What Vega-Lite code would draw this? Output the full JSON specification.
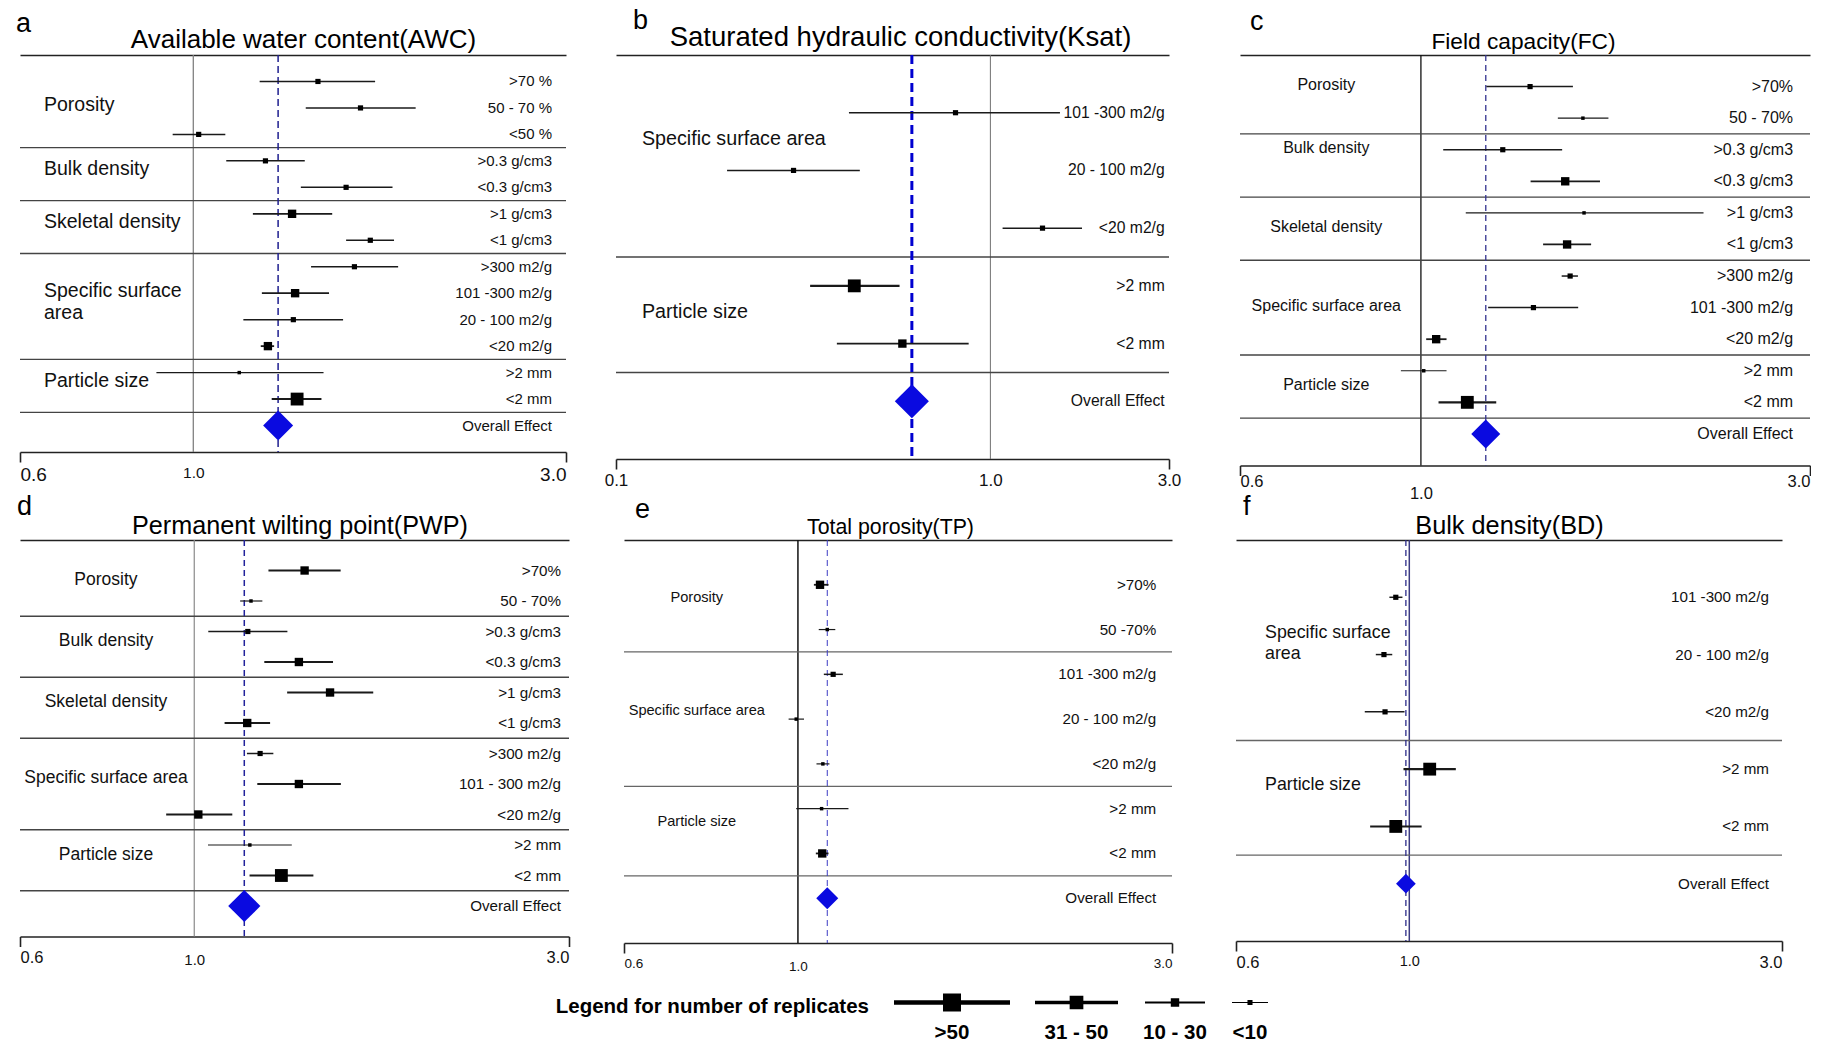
{
 "$schema": "https://vega.github.io/schema/vega-lite/v6.json",
 "background": "white",
 "padding": {"left": 16, "top": 6, "right": 0, "bottom": 0},
 "config": {"view": {"stroke": null}, "font": "Liberation Sans"},
 "datasets": {
  "a": [
   {"row": ">70 %", "lo": 1.216, "est": 1.444, "hi": 1.709, "n": "10-30"},
   {"row": "50 - 70 %", "lo": 1.393, "est": 1.637, "hi": 1.926, "n": "10-30"},
   {"row": "<50 %", "lo": 0.941, "est": 1.016, "hi": 1.099, "n": "10-30"},
   {"row": ">0.3 g/cm3", "lo": 1.102, "est": 1.237, "hi": 1.389, "n": "10-30"},
   {"row": "<0.3 g/cm3", "lo": 1.373, "est": 1.569, "hi": 1.799, "n": "10-30"},
   {"row": ">1 g/cm3", "lo": 1.192, "est": 1.338, "hi": 1.506, "n": "31-50"},
   {"row": "<1 g/cm3", "lo": 1.569, "est": 1.685, "hi": 1.807, "n": "10-30"},
   {"row": ">300 m2/g", "lo": 1.415, "est": 1.608, "hi": 1.829, "n": "10-30"},
   {"row": "101 -300 m2/g", "lo": 1.224, "est": 1.35, "hi": 1.492, "n": "31-50"},
   {"row": "20 - 100 m2/g", "lo": 1.159, "est": 1.343, "hi": 1.555, "n": "10-30"},
   {"row": "<20 m2/g", "lo": 1.22, "est": 1.246, "hi": 1.269, "n": "31-50"},
   {"row": ">2 mm", "lo": 0.897, "est": 1.145, "hi": 1.468, "n": "<10"},
   {"row": "<2 mm", "lo": 1.26, "est": 1.358, "hi": 1.459, "n": ">50"},
   {"row": "Overall Effect", "est": 1.284}
  ],
  "a_sep": [{"row": "<50 %"}, {"row": "<0.3 g/cm3"}, {"row": "<1 g/cm3"}, {"row": "<20 m2/g"}, {"row": "<2 mm"}],
  "a_gm": [{"g": "Porosity", "at": "50 - 70 %"}, {"g": "Specific surface\narea", "at": "101 -300 m2/g"}],
  "a_ge": [{"g": "Bulk density", "at": ">0.3 g/cm3"}, {"g": "Skeletal density", "at": ">1 g/cm3"}, {"g": "Particle size", "at": ">2 mm"}],
  "b": [
   {"row": "101 -300 m2/g", "lo": 0.419, "est": 0.807, "hi": 1.534, "n": "10-30"},
   {"row": "20 - 100 m2/g", "lo": 0.198, "est": 0.298, "hi": 0.448, "n": "10-30"},
   {"row": "<20 m2/g", "lo": 1.078, "est": 1.378, "hi": 1.757, "n": "10-30"},
   {"row": ">2 mm", "lo": 0.33, "est": 0.433, "hi": 0.572, "n": ">50"},
   {"row": "<2 mm", "lo": 0.389, "est": 0.582, "hi": 0.875, "n": "31-50"},
   {"row": "Overall Effect", "est": 0.617}
  ],
  "b_sep": [{"row": "<20 m2/g"}, {"row": "<2 mm"}],
  "b_ge": [{"g": "Specific surface area", "at": "101 -300 m2/g"}, {"g": "Particle size", "at": ">2 mm"}],
  "c": [
   {"row": ">70%", "lo": 1.203, "est": 1.361, "hi": 1.536, "n": "10-30"},
   {"row": "50 - 70%", "lo": 1.472, "est": 1.58, "hi": 1.698, "n": "<10"},
   {"row": ">0.3 g/cm3", "lo": 1.065, "est": 1.26, "hi": 1.49, "n": "10-30"},
   {"row": "<0.3 g/cm3", "lo": 1.363, "est": 1.503, "hi": 1.658, "n": "31-50"},
   {"row": ">1 g/cm3", "lo": 1.135, "est": 1.585, "hi": 2.221, "n": "<10"},
   {"row": "<1 g/cm3", "lo": 1.412, "est": 1.511, "hi": 1.617, "n": "31-50"},
   {"row": ">300 m2/g", "lo": 1.488, "est": 1.524, "hi": 1.558, "n": "10-30"},
   {"row": "101 -300 m2/g", "lo": 1.209, "est": 1.374, "hi": 1.559, "n": "10-30"},
   {"row": "<20 m2/g", "lo": 1.015, "est": 1.044, "hi": 1.075, "n": "31-50"},
   {"row": ">2 mm", "lo": 0.945, "est": 1.008, "hi": 1.075, "n": "<10"},
   {"row": "<2 mm", "lo": 1.051, "est": 1.14, "hi": 1.237, "n": ">50"},
   {"row": "Overall Effect", "est": 1.201}
  ],
  "c_sep": [{"row": "50 - 70%"}, {"row": "<0.3 g/cm3"}, {"row": "<1 g/cm3"}, {"row": "<20 m2/g"}, {"row": "<2 mm"}],
  "c_gm": [{"g": "Porosity", "at": ">70%"}, {"g": "Bulk density", "at": ">0.3 g/cm3"}, {"g": "Specific surface area", "at": "101 -300 m2/g"}],
  "c_ge": [{"g": "Skeletal density", "at": ">1 g/cm3"}, {"g": "Particle size", "at": ">2 mm"}],
  "d": [
   {"row": ">70%", "lo": 1.243, "est": 1.382, "hi": 1.536, "n": "31-50"},
   {"row": "50 - 70%", "lo": 1.144, "est": 1.181, "hi": 1.221, "n": "<10"},
   {"row": ">0.3 g/cm3", "lo": 1.042, "est": 1.17, "hi": 1.314, "n": "10-30"},
   {"row": "<0.3 g/cm3", "lo": 1.228, "est": 1.359, "hi": 1.502, "n": "31-50"},
   {"row": ">1 g/cm3", "lo": 1.313, "est": 1.489, "hi": 1.69, "n": "31-50"},
   {"row": "<1 g/cm3", "lo": 1.093, "est": 1.168, "hi": 1.249, "n": "31-50"},
   {"row": ">300 m2/g", "lo": 1.167, "est": 1.213, "hi": 1.261, "n": "10-30"},
   {"row": "101 - 300 m2/g", "lo": 1.203, "est": 1.359, "hi": 1.537, "n": "31-50"},
   {"row": "<20 m2/g", "lo": 0.921, "est": 1.012, "hi": 1.118, "n": "31-50"},
   {"row": ">2 mm", "lo": 1.041, "est": 1.177, "hi": 1.331, "n": "<10"},
   {"row": "<2 mm", "lo": 1.176, "est": 1.291, "hi": 1.418, "n": ">50"},
   {"row": "Overall Effect", "est": 1.158}
  ],
  "d_sep": [{"row": "50 - 70%"}, {"row": "<0.3 g/cm3"}, {"row": "<1 g/cm3"}, {"row": "<20 m2/g"}, {"row": "<2 mm"}],
  "d_gm": [{"g": "Specific surface area", "at": "101 - 300 m2/g"}],
  "d_ge": [{"g": "Porosity", "at": ">70%"}, {"g": "Bulk density", "at": ">0.3 g/cm3"}, {"g": "Skeletal density", "at": ">1 g/cm3"}, {"g": "Particle size", "at": ">2 mm"}],
  "e": [
   {"row": ">70%", "lo": 1.048, "est": 1.067, "hi": 1.094, "n": "31-50"},
   {"row": "50 -70%", "lo": 1.063, "est": 1.09, "hi": 1.116, "n": "<10"},
   {"row": "101 -300 m2/g", "lo": 1.079, "est": 1.109, "hi": 1.141, "n": "10-30"},
   {"row": "20 - 100 m2/g", "lo": 0.973, "est": 0.995, "hi": 1.018, "n": "<10"},
   {"row": "<20 m2/g", "lo": 1.056, "est": 1.076, "hi": 1.097, "n": "<10"},
   {"row": ">2 mm", "lo": 0.995, "est": 1.072, "hi": 1.16, "n": "<10"},
   {"row": "<2 mm", "lo": 1.054, "est": 1.074, "hi": 1.094, "n": "31-50"},
   {"row": "Overall Effect", "est": 1.09}
  ],
  "e_sep": [{"row": "50 -70%"}, {"row": "<20 m2/g"}, {"row": "<2 mm"}],
  "e_gm": [{"g": "Specific surface area", "at": "20 - 100 m2/g"}],
  "e_ge": [{"g": "Porosity", "at": ">70%"}, {"g": "Particle size", "at": ">2 mm"}],
  "f": [
   {"row": "101 -300 m2/g", "lo": 0.943, "est": 0.961, "hi": 0.98, "n": "10-30"},
   {"row": "20 - 100 m2/g", "lo": 0.906, "est": 0.928, "hi": 0.951, "n": "10-30"},
   {"row": "<20 m2/g", "lo": 0.877, "est": 0.931, "hi": 0.986, "n": "10-30"},
   {"row": ">2 mm", "lo": 0.983, "est": 1.062, "hi": 1.147, "n": ">50"},
   {"row": "<2 mm", "lo": 0.891, "est": 0.961, "hi": 1.037, "n": ">50"},
   {"row": "Overall Effect", "est": 0.99}
  ],
  "f_sep": [{"row": "<20 m2/g"}, {"row": "<2 mm"}],
  "f_gm": [{"g": "Specific surface\narea", "at": "20 - 100 m2/g"}],
  "f_ge": [{"g": "Particle size", "at": ">2 mm"}]
 },
 "vconcat": [
  {
   "spacing": -9,
   "vconcat": [
    {
     "spacing": 37,
     "hconcat": [
      {
       "width": 546, "height": 397,
       "title": {"text": "a", "anchor": "start", "frame": "group", "fontSize": 27, "fontWeight": "normal", "color": "#000", "dx": -4, "offset": -11.5},
       "resolve": {"axis": {"x": "independent"}},
       "layer": [
        {"data": {"values": [{}]}, "mark": {"type": "rule", "color": "#808080", "strokeWidth": 1.3}, "encoding": {"x": {"datum": 1, "type": "quantitative", "scale": {"type": "log", "domain": [0.6, 3], "nice": false}, "axis": null}}},
        {"data": {"name": "a_sep"}, "mark": {"type": "rule", "color": "#444", "strokeWidth": 1.3}, "encoding": {"y": {"field": "row", "type": "nominal", "bandPosition": 1, "scale": {"type": "band", "domain": [">70 %", "50 - 70 %", "<50 %", ">0.3 g/cm3", "<0.3 g/cm3", ">1 g/cm3", "<1 g/cm3", ">300 m2/g", "101 -300 m2/g", "20 - 100 m2/g", "<20 m2/g", ">2 mm", "<2 mm", "Overall Effect"], "paddingInner": 0, "paddingOuter": 0.5}, "axis": null}}},
        {"data": {"name": "a"}, "transform": [{"filter": "datum.row === 'Overall Effect'"}], "mark": {"type": "rule", "color": "#1f1f8f", "strokeWidth": 1.5, "strokeDash": [7, 4]}, "encoding": {"x": {"field": "est", "type": "quantitative", "scale": {"type": "log", "domain": [0.6, 3], "nice": false}, "axis": null}}},
        {"data": {"name": "a"}, "transform": [{"filter": "datum.row !== 'Overall Effect'"}], "mark": {"type": "rule", "color": "#1a1a1a"},
         "encoding": {
          "x": {"field": "lo", "type": "quantitative", "scale": {"type": "log", "domain": [0.6, 3], "nice": false},
                "axis": {"orient": "bottom", "values": [0.6, 1, 3], "format": ".1f", "title": null, "grid": false, "domainColor": "#222", "domainWidth": 1.6, "tickColor": "#222", "tickWidth": 1.6, "tickSize": 10, "tickOpacity": {"condition": {"test": "datum.value === 1", "value": 0}, "value": 1}, "labelFont": "Liberation Sans", "labelFontSize": {"condition": {"test": "datum.value === 1", "value": 15.5}, "value": 19}, "labelColor": "#111", "labelPadding": 3}},
          "x2": {"field": "hi"},
          "y": {"field": "row", "type": "nominal", "scale": {"type": "band", "domain": [">70 %", "50 - 70 %", "<50 %", ">0.3 g/cm3", "<0.3 g/cm3", ">1 g/cm3", "<1 g/cm3", ">300 m2/g", "101 -300 m2/g", "20 - 100 m2/g", "<20 m2/g", ">2 mm", "<2 mm", "Overall Effect"], "paddingInner": 0, "paddingOuter": 0.5}, "axis": null},
          "strokeWidth": {"field": "n", "type": "ordinal", "scale": {"type": "ordinal", "domain": ["<10", "10-30", "31-50", ">50"], "range": [1.2, 1.5, 1.8, 2.1]}, "legend": null}
         }},
        {"data": {"name": "a"}, "transform": [{"filter": "datum.row !== 'Overall Effect'"}], "mark": {"type": "point", "shape": "square", "filled": true, "color": "#000", "opacity": 1},
         "encoding": {
          "x": {"field": "est", "type": "quantitative", "scale": {"type": "log", "domain": [0.6, 3], "nice": false}, "axis": null},
          "y": {"field": "row", "type": "nominal", "scale": {"type": "band", "domain": [">70 %", "50 - 70 %", "<50 %", ">0.3 g/cm3", "<0.3 g/cm3", ">1 g/cm3", "<1 g/cm3", ">300 m2/g", "101 -300 m2/g", "20 - 100 m2/g", "<20 m2/g", ">2 mm", "<2 mm", "Overall Effect"], "paddingInner": 0, "paddingOuter": 0.5}, "axis": null},
          "size": {"field": "n", "type": "ordinal", "scale": {"type": "ordinal", "domain": ["<10", "10-30", "31-50", ">50"], "range": [12, 27, 70, 165]}, "legend": null}
         }},
        {"data": {"name": "a"}, "transform": [{"filter": "datum.row === 'Overall Effect'"}], "mark": {"type": "point", "shape": "diamond", "filled": true, "color": "#0a0ae0", "opacity": 1, "size": 900},
         "encoding": {
          "x": {"field": "est", "type": "quantitative", "scale": {"type": "log", "domain": [0.6, 3], "nice": false},
                "axis": {"orient": "top", "labels": false, "ticks": false, "grid": false, "domainColor": "#222", "domainWidth": 1.6, "title": "Available water content(AWC)", "titleFont": "Liberation Sans", "titleFontSize": 26, "titleFontWeight": "normal", "titleColor": "#000", "titlePadding": 3, "titleX": 283}},
          "y": {"field": "row", "type": "nominal", "scale": {"type": "band", "domain": [">70 %", "50 - 70 %", "<50 %", ">0.3 g/cm3", "<0.3 g/cm3", ">1 g/cm3", "<1 g/cm3", ">300 m2/g", "101 -300 m2/g", "20 - 100 m2/g", "<20 m2/g", ">2 mm", "<2 mm", "Overall Effect"], "paddingInner": 0, "paddingOuter": 0.5}, "axis": null}
         }},
        {"data": {"name": "a"}, "mark": {"type": "text", "align": "right", "baseline": "middle", "font": "Liberation Sans", "fontSize": 15, "color": "#111"},
         "encoding": {"x": {"datum": 2.879, "type": "quantitative", "scale": {"type": "log", "domain": [0.6, 3], "nice": false}, "axis": null},
          "y": {"field": "row", "type": "nominal", "scale": {"type": "band", "domain": [">70 %", "50 - 70 %", "<50 %", ">0.3 g/cm3", "<0.3 g/cm3", ">1 g/cm3", "<1 g/cm3", ">300 m2/g", "101 -300 m2/g", "20 - 100 m2/g", "<20 m2/g", ">2 mm", "<2 mm", "Overall Effect"], "paddingInner": 0, "paddingOuter": 0.5}, "axis": null},
          "text": {"field": "row"}}},
        {"data": {"name": "a_gm"}, "mark": {"type": "text", "align": "left", "baseline": "middle", "font": "Liberation Sans", "fontSize": 19.5, "color": "#111", "lineBreak": "\n", "lineHeight": 22},
         "encoding": {"x": {"datum": 0.644, "type": "quantitative", "scale": {"type": "log", "domain": [0.6, 3], "nice": false}, "axis": null},
          "y": {"field": "at", "type": "nominal", "bandPosition": 0.4, "scale": {"type": "band", "domain": [">70 %", "50 - 70 %", "<50 %", ">0.3 g/cm3", "<0.3 g/cm3", ">1 g/cm3", "<1 g/cm3", ">300 m2/g", "101 -300 m2/g", "20 - 100 m2/g", "<20 m2/g", ">2 mm", "<2 mm", "Overall Effect"], "paddingInner": 0, "paddingOuter": 0.5}, "axis": null},
          "text": {"field": "g"}}},
        {"data": {"name": "a_ge"}, "mark": {"type": "text", "align": "left", "baseline": "middle", "font": "Liberation Sans", "fontSize": 19.5, "color": "#111"},
         "encoding": {"x": {"datum": 0.644, "type": "quantitative", "scale": {"type": "log", "domain": [0.6, 3], "nice": false}, "axis": null},
          "y": {"field": "at", "type": "nominal", "bandPosition": 0.8, "scale": {"type": "band", "domain": [">70 %", "50 - 70 %", "<50 %", ">0.3 g/cm3", "<0.3 g/cm3", ">1 g/cm3", "<1 g/cm3", ">300 m2/g", "101 -300 m2/g", "20 - 100 m2/g", "<20 m2/g", ">2 mm", "<2 mm", "Overall Effect"], "paddingInner": 0, "paddingOuter": 0.5}, "axis": null},
          "text": {"field": "g"}}}
       ]
      },
      {
       "spacing": 58,
       "hconcat": [
        {
         "width": 553, "height": 404,
         "title": {"text": "b", "anchor": "start", "frame": "group", "fontSize": 27, "fontWeight": "normal", "color": "#000", "dx": 17, "offset": -11.5},
         "resolve": {"axis": {"x": "independent"}},
         "layer": [
          {"data": {"values": [{}]}, "mark": {"type": "rule", "color": "#707070", "strokeWidth": 1}, "encoding": {"x": {"datum": 1, "type": "quantitative", "scale": {"type": "log", "domain": [0.1, 3], "nice": false}, "axis": null}}},
          {"data": {"name": "b_sep"}, "mark": {"type": "rule", "color": "#444", "strokeWidth": 1.4}, "encoding": {"y": {"field": "row", "type": "nominal", "bandPosition": 1, "scale": {"type": "band", "domain": ["101 -300 m2/g", "20 - 100 m2/g", "<20 m2/g", ">2 mm", "<2 mm", "Overall Effect"], "paddingInner": 0, "paddingOuter": 0.5}, "axis": null}}},
          {"data": {"name": "b"}, "transform": [{"filter": "datum.row === 'Overall Effect'"}], "mark": {"type": "rule", "color": "#0000d0", "strokeWidth": 3, "strokeDash": [9, 5]}, "encoding": {"x": {"field": "est", "type": "quantitative", "scale": {"type": "log", "domain": [0.1, 3], "nice": false}, "axis": null}}},
          {"data": {"name": "b"}, "transform": [{"filter": "datum.row !== 'Overall Effect'"}], "mark": {"type": "rule", "color": "#1a1a1a"},
           "encoding": {
            "x": {"field": "lo", "type": "quantitative", "scale": {"type": "log", "domain": [0.1, 3], "nice": false},
                  "axis": {"orient": "bottom", "values": [0.1, 1, 3], "format": ".1f", "title": null, "grid": false, "labelFlush": false, "domainColor": "#222", "domainWidth": 1.6, "tickColor": "#222", "tickWidth": 1.6, "tickSize": 10, "tickOpacity": {"condition": {"test": "datum.value === 1", "value": 0}, "value": 1}, "labelFont": "Liberation Sans", "labelFontSize": 17, "labelColor": "#111", "labelPadding": 3}},
            "x2": {"field": "hi"},
            "y": {"field": "row", "type": "nominal", "scale": {"type": "band", "domain": ["101 -300 m2/g", "20 - 100 m2/g", "<20 m2/g", ">2 mm", "<2 mm", "Overall Effect"], "paddingInner": 0, "paddingOuter": 0.5}, "axis": null},
            "strokeWidth": {"field": "n", "type": "ordinal", "scale": {"type": "ordinal", "domain": ["<10", "10-30", "31-50", ">50"], "range": [1.0, 1.2, 1.5, 1.8]}, "legend": null}
           }},
          {"data": {"name": "b"}, "transform": [{"filter": "datum.row !== 'Overall Effect'"}], "mark": {"type": "point", "shape": "square", "filled": true, "color": "#000", "opacity": 1},
           "encoding": {
            "x": {"field": "est", "type": "quantitative", "scale": {"type": "log", "domain": [0.1, 3], "nice": false}, "axis": null},
            "y": {"field": "row", "type": "nominal", "scale": {"type": "band", "domain": ["101 -300 m2/g", "20 - 100 m2/g", "<20 m2/g", ">2 mm", "<2 mm", "Overall Effect"], "paddingInner": 0, "paddingOuter": 0.5}, "axis": null},
            "size": {"field": "n", "type": "ordinal", "scale": {"type": "ordinal", "domain": ["<10", "10-30", "31-50", ">50"], "range": [12, 27, 85, 190]}, "legend": null}
           }},
          {"data": {"name": "b"}, "transform": [{"filter": "datum.row === 'Overall Effect'"}], "mark": {"type": "point", "shape": "diamond", "filled": true, "color": "#0a0ae0", "opacity": 1, "size": 1160},
           "encoding": {
            "x": {"field": "est", "type": "quantitative", "scale": {"type": "log", "domain": [0.1, 3], "nice": false},
                  "axis": {"orient": "top", "labels": false, "ticks": false, "grid": false, "domainColor": "#222", "domainWidth": 1.6, "title": "Saturated hydraulic conductivity(Ksat)", "titleFont": "Liberation Sans", "titleFontSize": 27.5, "titleFontWeight": "normal", "titleColor": "#000", "titlePadding": 4, "titleX": 284}},
            "y": {"field": "row", "type": "nominal", "scale": {"type": "band", "domain": ["101 -300 m2/g", "20 - 100 m2/g", "<20 m2/g", ">2 mm", "<2 mm", "Overall Effect"], "paddingInner": 0, "paddingOuter": 0.5}, "axis": null}
           }},
          {"data": {"name": "b"}, "mark": {"type": "text", "align": "right", "baseline": "middle", "font": "Liberation Sans", "fontSize": 15.7, "color": "#111"},
           "encoding": {"x": {"datum": 2.922, "type": "quantitative", "scale": {"type": "log", "domain": [0.1, 3], "nice": false}, "axis": null},
            "y": {"field": "row", "type": "nominal", "scale": {"type": "band", "domain": ["101 -300 m2/g", "20 - 100 m2/g", "<20 m2/g", ">2 mm", "<2 mm", "Overall Effect"], "paddingInner": 0, "paddingOuter": 0.5}, "axis": null},
            "text": {"field": "row"}}},
          {"data": {"name": "b_ge"}, "mark": {"type": "text", "align": "left", "baseline": "middle", "font": "Liberation Sans", "fontSize": 19.7, "color": "#111"},
           "encoding": {"x": {"datum": 0.1173, "type": "quantitative", "scale": {"type": "log", "domain": [0.1, 3], "nice": false}, "axis": null},
            "y": {"field": "at", "type": "nominal", "bandPosition": 0.95, "scale": {"type": "band", "domain": ["101 -300 m2/g", "20 - 100 m2/g", "<20 m2/g", ">2 mm", "<2 mm", "Overall Effect"], "paddingInner": 0, "paddingOuter": 0.5}, "axis": null},
            "text": {"field": "g"}}}
         ]
        },
        {
         "width": 570, "height": 410.5,
         "title": {"text": "c", "anchor": "start", "frame": "group", "fontSize": 27, "fontWeight": "normal", "color": "#000", "dx": 10, "offset": -5.5},
         "resolve": {"axis": {"x": "independent"}},
         "layer": [
          {"data": {"values": [{}]}, "mark": {"type": "rule", "color": "#111", "strokeWidth": 1.3}, "encoding": {"x": {"datum": 1, "type": "quantitative", "scale": {"type": "log", "domain": [0.6, 3], "nice": false}, "axis": null}}},
          {"data": {"name": "c_sep"}, "mark": {"type": "rule", "color": "#444", "strokeWidth": 1.3}, "encoding": {"y": {"field": "row", "type": "nominal", "bandPosition": 1, "scale": {"type": "band", "domain": [">70%", "50 - 70%", ">0.3 g/cm3", "<0.3 g/cm3", ">1 g/cm3", "<1 g/cm3", ">300 m2/g", "101 -300 m2/g", "<20 m2/g", ">2 mm", "<2 mm", "Overall Effect"], "paddingInner": 0, "paddingOuter": 0.5}, "axis": null}}},
          {"data": {"name": "c"}, "transform": [{"filter": "datum.row === 'Overall Effect'"}], "mark": {"type": "rule", "color": "#33338f", "strokeWidth": 1.3, "strokeDash": [6, 4]}, "encoding": {"x": {"field": "est", "type": "quantitative", "scale": {"type": "log", "domain": [0.6, 3], "nice": false}, "axis": null}}},
          {"data": {"name": "c"}, "transform": [{"filter": "datum.row !== 'Overall Effect'"}], "mark": {"type": "rule", "color": "#1a1a1a"},
           "encoding": {
            "x": {"field": "lo", "type": "quantitative", "scale": {"type": "log", "domain": [0.6, 3], "nice": false},
                  "axis": {"orient": "bottom", "values": [0.6, 1, 3], "format": ".1f", "title": null, "grid": false, "domainColor": "#222", "domainWidth": 1.6, "tickColor": "#222", "tickWidth": 1.6, "tickSize": 10, "tickOpacity": {"condition": {"test": "datum.value === 1", "value": 0}, "value": 1}, "labelFont": "Liberation Sans", "labelFontSize": 16.5, "labelColor": "#111", "labelPadding": {"condition": {"test": "datum.value === 1", "value": 10}, "value": -2}}},
            "x2": {"field": "hi"},
            "y": {"field": "row", "type": "nominal", "scale": {"type": "band", "domain": [">70%", "50 - 70%", ">0.3 g/cm3", "<0.3 g/cm3", ">1 g/cm3", "<1 g/cm3", ">300 m2/g", "101 -300 m2/g", "<20 m2/g", ">2 mm", "<2 mm", "Overall Effect"], "paddingInner": 0, "paddingOuter": 0.5}, "axis": null},
            "strokeWidth": {"field": "n", "type": "ordinal", "scale": {"type": "ordinal", "domain": ["<10", "10-30", "31-50", ">50"], "range": [1.2, 1.5, 1.8, 2.1]}, "legend": null}
           }},
          {"data": {"name": "c"}, "transform": [{"filter": "datum.row !== 'Overall Effect'"}], "mark": {"type": "point", "shape": "square", "filled": true, "color": "#000", "opacity": 1},
           "encoding": {
            "x": {"field": "est", "type": "quantitative", "scale": {"type": "log", "domain": [0.6, 3], "nice": false}, "axis": null},
            "y": {"field": "row", "type": "nominal", "scale": {"type": "band", "domain": [">70%", "50 - 70%", ">0.3 g/cm3", "<0.3 g/cm3", ">1 g/cm3", "<1 g/cm3", ">300 m2/g", "101 -300 m2/g", "<20 m2/g", ">2 mm", "<2 mm", "Overall Effect"], "paddingInner": 0, "paddingOuter": 0.5}, "axis": null},
            "size": {"field": "n", "type": "ordinal", "scale": {"type": "ordinal", "domain": ["<10", "10-30", "31-50", ">50"], "range": [12, 27, 55, 135]}, "legend": null}
           }},
          {"data": {"name": "c"}, "transform": [{"filter": "datum.row === 'Overall Effect'"}], "mark": {"type": "point", "shape": "diamond", "filled": true, "color": "#0a0ae0", "opacity": 1, "size": 841},
           "encoding": {
            "x": {"field": "est", "type": "quantitative", "scale": {"type": "log", "domain": [0.6, 3], "nice": false},
                  "axis": {"orient": "top", "labels": false, "ticks": false, "grid": false, "domainColor": "#222", "domainWidth": 1.6, "title": "Field capacity(FC)", "titleFont": "Liberation Sans", "titleFontSize": 22.7, "titleFontWeight": "normal", "titleColor": "#000", "titlePadding": 2, "titleX": 283}},
            "y": {"field": "row", "type": "nominal", "scale": {"type": "band", "domain": [">70%", "50 - 70%", ">0.3 g/cm3", "<0.3 g/cm3", ">1 g/cm3", "<1 g/cm3", ">300 m2/g", "101 -300 m2/g", "<20 m2/g", ">2 mm", "<2 mm", "Overall Effect"], "paddingInner": 0, "paddingOuter": 0.5}, "axis": null}
           }},
          {"data": {"name": "c"}, "mark": {"type": "text", "align": "right", "baseline": "middle", "font": "Liberation Sans", "fontSize": 16, "color": "#111"},
           "encoding": {"x": {"datum": 2.86, "type": "quantitative", "scale": {"type": "log", "domain": [0.6, 3], "nice": false}, "axis": null},
            "y": {"field": "row", "type": "nominal", "scale": {"type": "band", "domain": [">70%", "50 - 70%", ">0.3 g/cm3", "<0.3 g/cm3", ">1 g/cm3", "<1 g/cm3", ">300 m2/g", "101 -300 m2/g", "<20 m2/g", ">2 mm", "<2 mm", "Overall Effect"], "paddingInner": 0, "paddingOuter": 0.5}, "axis": null},
            "text": {"field": "row"}}},
          {"data": {"name": "c_gm"}, "mark": {"type": "text", "align": "center", "baseline": "middle", "font": "Liberation Sans", "fontSize": 16, "color": "#111"},
           "encoding": {"x": {"datum": 0.7655, "type": "quantitative", "scale": {"type": "log", "domain": [0.6, 3], "nice": false}, "axis": null},
            "y": {"field": "at", "type": "nominal", "bandPosition": 0.45, "scale": {"type": "band", "domain": [">70%", "50 - 70%", ">0.3 g/cm3", "<0.3 g/cm3", ">1 g/cm3", "<1 g/cm3", ">300 m2/g", "101 -300 m2/g", "<20 m2/g", ">2 mm", "<2 mm", "Overall Effect"], "paddingInner": 0, "paddingOuter": 0.5}, "axis": null},
            "text": {"field": "g"}}},
          {"data": {"name": "c_ge"}, "mark": {"type": "text", "align": "center", "baseline": "middle", "font": "Liberation Sans", "fontSize": 16, "color": "#111"},
           "encoding": {"x": {"datum": 0.7655, "type": "quantitative", "scale": {"type": "log", "domain": [0.6, 3], "nice": false}, "axis": null},
            "y": {"field": "at", "type": "nominal", "bandPosition": 0.95, "scale": {"type": "band", "domain": [">70%", "50 - 70%", ">0.3 g/cm3", "<0.3 g/cm3", ">1 g/cm3", "<1 g/cm3", ">300 m2/g", "101 -300 m2/g", "<20 m2/g", ">2 mm", "<2 mm", "Overall Effect"], "paddingInner": 0, "paddingOuter": 0.5}, "axis": null},
            "text": {"field": "g"}}}
         ]
        }
       ]
      }
     ]
    },
    {
     "spacing": 53,
     "hconcat": [
      {
       "width": 549, "height": 396.5,
       "title": {"text": "d", "anchor": "start", "frame": "group", "fontSize": 27, "fontWeight": "normal", "color": "#000", "dx": -3, "offset": -8},
       "resolve": {"axis": {"x": "independent"}},
       "layer": [
        {"data": {"values": [{}]}, "mark": {"type": "rule", "color": "#8a8a8a", "strokeWidth": 1.2}, "encoding": {"x": {"datum": 1, "type": "quantitative", "scale": {"type": "log", "domain": [0.6, 3], "nice": false}, "axis": null}}},
        {"data": {"name": "d_sep"}, "mark": {"type": "rule", "color": "#444", "strokeWidth": 1.3}, "encoding": {"y": {"field": "row", "type": "nominal", "bandPosition": 1, "scale": {"type": "band", "domain": [">70%", "50 - 70%", ">0.3 g/cm3", "<0.3 g/cm3", ">1 g/cm3", "<1 g/cm3", ">300 m2/g", "101 - 300 m2/g", "<20 m2/g", ">2 mm", "<2 mm", "Overall Effect"], "paddingInner": 0, "paddingOuter": 0.5}, "axis": null}}},
        {"data": {"name": "d"}, "transform": [{"filter": "datum.row === 'Overall Effect'"}], "mark": {"type": "rule", "color": "#22229a", "strokeWidth": 1.5, "strokeDash": [6, 4]}, "encoding": {"x": {"field": "est", "type": "quantitative", "scale": {"type": "log", "domain": [0.6, 3], "nice": false}, "axis": null}}},
        {"data": {"name": "d"}, "transform": [{"filter": "datum.row !== 'Overall Effect'"}], "mark": {"type": "rule", "color": "#1a1a1a"},
         "encoding": {
          "x": {"field": "lo", "type": "quantitative", "scale": {"type": "log", "domain": [0.6, 3], "nice": false},
                "axis": {"orient": "bottom", "values": [0.6, 1, 3], "format": ".1f", "title": null, "grid": false, "domainColor": "#222", "domainWidth": 1.6, "tickColor": "#222", "tickWidth": 1.6, "tickSize": 10, "tickOpacity": {"condition": {"test": "datum.value === 1", "value": 0}, "value": 1}, "labelFont": "Liberation Sans", "labelFontSize": {"condition": {"test": "datum.value === 1", "value": 15}, "value": 16.5}, "labelColor": "#111", "labelPadding": {"condition": {"test": "datum.value === 1", "value": 6}, "value": 3}}},
          "x2": {"field": "hi"},
          "y": {"field": "row", "type": "nominal", "scale": {"type": "band", "domain": [">70%", "50 - 70%", ">0.3 g/cm3", "<0.3 g/cm3", ">1 g/cm3", "<1 g/cm3", ">300 m2/g", "101 - 300 m2/g", "<20 m2/g", ">2 mm", "<2 mm", "Overall Effect"], "paddingInner": 0, "paddingOuter": 0.5}, "axis": null},
          "strokeWidth": {"field": "n", "type": "ordinal", "scale": {"type": "ordinal", "domain": ["<10", "10-30", "31-50", ">50"], "range": [1.2, 1.5, 1.8, 2.1]}, "legend": null}
         }},
        {"data": {"name": "d"}, "transform": [{"filter": "datum.row !== 'Overall Effect'"}], "mark": {"type": "point", "shape": "square", "filled": true, "color": "#000", "opacity": 1},
         "encoding": {
          "x": {"field": "est", "type": "quantitative", "scale": {"type": "log", "domain": [0.6, 3], "nice": false}, "axis": null},
          "y": {"field": "row", "type": "nominal", "scale": {"type": "band", "domain": [">70%", "50 - 70%", ">0.3 g/cm3", "<0.3 g/cm3", ">1 g/cm3", "<1 g/cm3", ">300 m2/g", "101 - 300 m2/g", "<20 m2/g", ">2 mm", "<2 mm", "Overall Effect"], "paddingInner": 0, "paddingOuter": 0.5}, "axis": null},
          "size": {"field": "n", "type": "ordinal", "scale": {"type": "ordinal", "domain": ["<10", "10-30", "31-50", ">50"], "range": [15, 28, 85, 145]}, "legend": null}
         }},
        {"data": {"name": "d"}, "transform": [{"filter": "datum.row === 'Overall Effect'"}], "mark": {"type": "point", "shape": "diamond", "filled": true, "color": "#0a0ae0", "opacity": 1, "size": 1036},
         "encoding": {
          "x": {"field": "est", "type": "quantitative", "scale": {"type": "log", "domain": [0.6, 3], "nice": false},
                "axis": {"orient": "top", "labels": false, "ticks": false, "grid": false, "domainColor": "#222", "domainWidth": 1.6, "title": "Permanent wilting point(PWP)", "titleFont": "Liberation Sans", "titleFontSize": 25.2, "titleFontWeight": "normal", "titleColor": "#000", "titlePadding": 2, "titleX": 279.5}},
          "y": {"field": "row", "type": "nominal", "scale": {"type": "band", "domain": [">70%", "50 - 70%", ">0.3 g/cm3", "<0.3 g/cm3", ">1 g/cm3", "<1 g/cm3", ">300 m2/g", "101 - 300 m2/g", "<20 m2/g", ">2 mm", "<2 mm", "Overall Effect"], "paddingInner": 0, "paddingOuter": 0.5}, "axis": null}
         }},
        {"data": {"name": "d"}, "mark": {"type": "text", "align": "right", "baseline": "middle", "font": "Liberation Sans", "fontSize": 15.2, "color": "#111"},
         "encoding": {"x": {"datum": 2.931, "type": "quantitative", "scale": {"type": "log", "domain": [0.6, 3], "nice": false}, "axis": null},
          "y": {"field": "row", "type": "nominal", "scale": {"type": "band", "domain": [">70%", "50 - 70%", ">0.3 g/cm3", "<0.3 g/cm3", ">1 g/cm3", "<1 g/cm3", ">300 m2/g", "101 - 300 m2/g", "<20 m2/g", ">2 mm", "<2 mm", "Overall Effect"], "paddingInner": 0, "paddingOuter": 0.5}, "axis": null},
          "text": {"field": "row"}}},
        {"data": {"name": "d_gm"}, "mark": {"type": "text", "align": "center", "baseline": "middle", "font": "Liberation Sans", "fontSize": 17.5, "color": "#111"},
         "encoding": {"x": {"datum": 0.772, "type": "quantitative", "scale": {"type": "log", "domain": [0.6, 3], "nice": false}, "axis": null},
          "y": {"field": "at", "type": "nominal", "bandPosition": 0.3, "scale": {"type": "band", "domain": [">70%", "50 - 70%", ">0.3 g/cm3", "<0.3 g/cm3", ">1 g/cm3", "<1 g/cm3", ">300 m2/g", "101 - 300 m2/g", "<20 m2/g", ">2 mm", "<2 mm", "Overall Effect"], "paddingInner": 0, "paddingOuter": 0.5}, "axis": null},
          "text": {"field": "g"}}},
        {"data": {"name": "d_ge"}, "mark": {"type": "text", "align": "center", "baseline": "middle", "font": "Liberation Sans", "fontSize": 17.5, "color": "#111"},
         "encoding": {"x": {"datum": 0.772, "type": "quantitative", "scale": {"type": "log", "domain": [0.6, 3], "nice": false}, "axis": null},
          "y": {"field": "at", "type": "nominal", "bandPosition": 0.82, "scale": {"type": "band", "domain": [">70%", "50 - 70%", ">0.3 g/cm3", "<0.3 g/cm3", ">1 g/cm3", "<1 g/cm3", ">300 m2/g", "101 - 300 m2/g", "<20 m2/g", ">2 mm", "<2 mm", "Overall Effect"], "paddingInner": 0, "paddingOuter": 0.5}, "axis": null},
          "text": {"field": "g"}}}
       ]
      },
      {
       "spacing": 62,
       "hconcat": [
        {
         "width": 548, "height": 403,
         "title": {"text": "e", "anchor": "start", "frame": "group", "fontSize": 27, "fontWeight": "normal", "color": "#000", "dx": 11, "offset": -8},
         "resolve": {"axis": {"x": "independent"}},
         "layer": [
          {"data": {"values": [{}]}, "mark": {"type": "rule", "color": "#111", "strokeWidth": 1.5}, "encoding": {"x": {"datum": 1, "type": "quantitative", "scale": {"type": "log", "domain": [0.6, 3], "nice": false}, "axis": null}}},
          {"data": {"name": "e_sep"}, "mark": {"type": "rule", "color": "#666", "strokeWidth": 1.3}, "encoding": {"y": {"field": "row", "type": "nominal", "bandPosition": 1, "scale": {"type": "band", "domain": [">70%", "50 -70%", "101 -300 m2/g", "20 - 100 m2/g", "<20 m2/g", ">2 mm", "<2 mm", "Overall Effect"], "paddingInner": 0, "paddingOuter": 0.5}, "axis": null}}},
          {"data": {"name": "e"}, "transform": [{"filter": "datum.row === 'Overall Effect'"}], "mark": {"type": "rule", "color": "#3b3bc4", "strokeWidth": 1, "strokeDash": [6, 4]}, "encoding": {"x": {"field": "est", "type": "quantitative", "scale": {"type": "log", "domain": [0.6, 3], "nice": false}, "axis": null}}},
          {"data": {"name": "e"}, "transform": [{"filter": "datum.row !== 'Overall Effect'"}], "mark": {"type": "rule", "color": "#1a1a1a"},
           "encoding": {
            "x": {"field": "lo", "type": "quantitative", "scale": {"type": "log", "domain": [0.6, 3], "nice": false},
                  "axis": {"orient": "bottom", "values": [0.6, 1, 3], "format": ".1f", "title": null, "grid": false, "domainColor": "#222", "domainWidth": 1.6, "tickColor": "#222", "tickWidth": 1.6, "tickSize": 10, "tickOpacity": {"condition": {"test": "datum.value === 1", "value": 0}, "value": 1}, "labelFont": "Liberation Sans", "labelFontSize": 13.5, "labelColor": "#111", "labelPadding": {"condition": {"test": "datum.value === 1", "value": 6}, "value": 3}}},
            "x2": {"field": "hi"},
            "y": {"field": "row", "type": "nominal", "scale": {"type": "band", "domain": [">70%", "50 -70%", "101 -300 m2/g", "20 - 100 m2/g", "<20 m2/g", ">2 mm", "<2 mm", "Overall Effect"], "paddingInner": 0, "paddingOuter": 0.5}, "axis": null},
            "strokeWidth": {"field": "n", "type": "ordinal", "scale": {"type": "ordinal", "domain": ["<10", "10-30", "31-50", ">50"], "range": [1.2, 1.5, 1.8, 2.1]}, "legend": null}
           }},
          {"data": {"name": "e"}, "transform": [{"filter": "datum.row !== 'Overall Effect'"}], "mark": {"type": "point", "shape": "square", "filled": true, "color": "#000", "opacity": 1},
           "encoding": {
            "x": {"field": "est", "type": "quantitative", "scale": {"type": "log", "domain": [0.6, 3], "nice": false}, "axis": null},
            "y": {"field": "row", "type": "nominal", "scale": {"type": "band", "domain": [">70%", "50 -70%", "101 -300 m2/g", "20 - 100 m2/g", "<20 m2/g", ">2 mm", "<2 mm", "Overall Effect"], "paddingInner": 0, "paddingOuter": 0.5}, "axis": null},
            "size": {"field": "n", "type": "ordinal", "scale": {"type": "ordinal", "domain": ["<10", "10-30", "31-50", ">50"], "range": [12, 36, 85, 150]}, "legend": null}
           }},
          {"data": {"name": "e"}, "transform": [{"filter": "datum.row === 'Overall Effect'"}], "mark": {"type": "point", "shape": "diamond", "filled": true, "color": "#0a0ae0", "opacity": 1, "size": 484},
           "encoding": {
            "x": {"field": "est", "type": "quantitative", "scale": {"type": "log", "domain": [0.6, 3], "nice": false},
                  "axis": {"orient": "top", "labels": false, "ticks": false, "grid": false, "domainColor": "#222", "domainWidth": 1.6, "title": "Total porosity(TP)", "titleFont": "Liberation Sans", "titleFontSize": 21.3, "titleFontWeight": "normal", "titleColor": "#000", "titlePadding": 3, "titleX": 266}},
            "y": {"field": "row", "type": "nominal", "scale": {"type": "band", "domain": [">70%", "50 -70%", "101 -300 m2/g", "20 - 100 m2/g", "<20 m2/g", ">2 mm", "<2 mm", "Overall Effect"], "paddingInner": 0, "paddingOuter": 0.5}, "axis": null}
           }},
          {"data": {"name": "e"}, "mark": {"type": "text", "align": "right", "baseline": "middle", "font": "Liberation Sans", "fontSize": 15.2, "color": "#111"},
           "encoding": {"x": {"datum": 2.864, "type": "quantitative", "scale": {"type": "log", "domain": [0.6, 3], "nice": false}, "axis": null},
            "y": {"field": "row", "type": "nominal", "scale": {"type": "band", "domain": [">70%", "50 -70%", "101 -300 m2/g", "20 - 100 m2/g", "<20 m2/g", ">2 mm", "<2 mm", "Overall Effect"], "paddingInner": 0, "paddingOuter": 0.5}, "axis": null},
            "text": {"field": "row"}}},
          {"data": {"name": "e_gm"}, "mark": {"type": "text", "align": "center", "baseline": "middle", "font": "Liberation Sans", "fontSize": 14.6, "color": "#111"},
           "encoding": {"x": {"datum": 0.743, "type": "quantitative", "scale": {"type": "log", "domain": [0.6, 3], "nice": false}, "axis": null},
            "y": {"field": "at", "type": "nominal", "bandPosition": 0.32, "scale": {"type": "band", "domain": [">70%", "50 -70%", "101 -300 m2/g", "20 - 100 m2/g", "<20 m2/g", ">2 mm", "<2 mm", "Overall Effect"], "paddingInner": 0, "paddingOuter": 0.5}, "axis": null},
            "text": {"field": "g"}}},
          {"data": {"name": "e_ge"}, "mark": {"type": "text", "align": "center", "baseline": "middle", "font": "Liberation Sans", "fontSize": 14.6, "color": "#111"},
           "encoding": {"x": {"datum": 0.743, "type": "quantitative", "scale": {"type": "log", "domain": [0.6, 3], "nice": false}, "axis": null},
            "y": {"field": "at", "type": "nominal", "bandPosition": 0.8, "scale": {"type": "band", "domain": [">70%", "50 -70%", "101 -300 m2/g", "20 - 100 m2/g", "<20 m2/g", ">2 mm", "<2 mm", "Overall Effect"], "paddingInner": 0, "paddingOuter": 0.5}, "axis": null},
            "text": {"field": "g"}}}
         ]
        },
        {
         "width": 546, "height": 401,
         "title": {"text": "f", "anchor": "start", "frame": "group", "fontSize": 27, "fontWeight": "normal", "color": "#000", "dx": 7, "offset": -8},
         "resolve": {"axis": {"x": "independent"}},
         "layer": [
          {"data": {"values": [{}]}, "mark": {"type": "rule", "color": "#3a3a80", "strokeWidth": 1.5}, "encoding": {"x": {"datum": 1, "type": "quantitative", "scale": {"type": "log", "domain": [0.6, 3], "nice": false}, "axis": null}}},
          {"data": {"name": "f_sep"}, "mark": {"type": "rule", "color": "#666", "strokeWidth": 1.3}, "encoding": {"y": {"field": "row", "type": "nominal", "bandPosition": 1, "scale": {"type": "band", "domain": ["101 -300 m2/g", "20 - 100 m2/g", "<20 m2/g", ">2 mm", "<2 mm", "Overall Effect"], "paddingInner": 0, "paddingOuter": 0.5}, "axis": null}}},
          {"data": {"name": "f"}, "transform": [{"filter": "datum.row === 'Overall Effect'"}], "mark": {"type": "rule", "color": "#2b2b8a", "strokeWidth": 1.3, "strokeDash": [6, 4]}, "encoding": {"x": {"field": "est", "type": "quantitative", "scale": {"type": "log", "domain": [0.6, 3], "nice": false}, "axis": null}}},
          {"data": {"name": "f"}, "transform": [{"filter": "datum.row !== 'Overall Effect'"}], "mark": {"type": "rule", "color": "#1a1a1a"},
           "encoding": {
            "x": {"field": "lo", "type": "quantitative", "scale": {"type": "log", "domain": [0.6, 3], "nice": false},
                  "axis": {"orient": "bottom", "values": [0.6, 1, 3], "format": ".1f", "title": null, "grid": false, "domainColor": "#222", "domainWidth": 1.6, "tickColor": "#222", "tickWidth": 1.6, "tickSize": 10, "tickOpacity": {"condition": {"test": "datum.value === 1", "value": 0}, "value": 1}, "labelFont": "Liberation Sans", "labelFontSize": {"condition": {"test": "datum.value === 1", "value": 14.5}, "value": 16.5}, "labelColor": "#111", "labelPadding": 3}},
            "x2": {"field": "hi"},
            "y": {"field": "row", "type": "nominal", "scale": {"type": "band", "domain": ["101 -300 m2/g", "20 - 100 m2/g", "<20 m2/g", ">2 mm", "<2 mm", "Overall Effect"], "paddingInner": 0, "paddingOuter": 0.5}, "axis": null},
            "strokeWidth": {"field": "n", "type": "ordinal", "scale": {"type": "ordinal", "domain": ["<10", "10-30", "31-50", ">50"], "range": [1.2, 1.5, 1.8, 2.1]}, "legend": null}
           }},
          {"data": {"name": "f"}, "transform": [{"filter": "datum.row !== 'Overall Effect'"}], "mark": {"type": "point", "shape": "square", "filled": true, "color": "#000", "opacity": 1},
           "encoding": {
            "x": {"field": "est", "type": "quantitative", "scale": {"type": "log", "domain": [0.6, 3], "nice": false}, "axis": null},
            "y": {"field": "row", "type": "nominal", "scale": {"type": "band", "domain": ["101 -300 m2/g", "20 - 100 m2/g", "<20 m2/g", ">2 mm", "<2 mm", "Overall Effect"], "paddingInner": 0, "paddingOuter": 0.5}, "axis": null},
            "size": {"field": "n", "type": "ordinal", "scale": {"type": "ordinal", "domain": ["<10", "10-30", "31-50", ">50"], "range": [15, 32, 70, 152]}, "legend": null}
           }},
          {"data": {"name": "f"}, "transform": [{"filter": "datum.row === 'Overall Effect'"}], "mark": {"type": "point", "shape": "diamond", "filled": true, "color": "#0a0ae0", "opacity": 1, "size": 388},
           "encoding": {
            "x": {"field": "est", "type": "quantitative", "scale": {"type": "log", "domain": [0.6, 3], "nice": false},
                  "axis": {"orient": "top", "labels": false, "ticks": false, "grid": false, "domainColor": "#222", "domainWidth": 1.6, "title": "Bulk density(BD)", "titleFont": "Liberation Sans", "titleFontSize": 25.3, "titleFontWeight": "normal", "titleColor": "#000", "titlePadding": 2}},
            "y": {"field": "row", "type": "nominal", "scale": {"type": "band", "domain": ["101 -300 m2/g", "20 - 100 m2/g", "<20 m2/g", ">2 mm", "<2 mm", "Overall Effect"], "paddingInner": 0, "paddingOuter": 0.5}, "axis": null}
           }},
          {"data": {"name": "f"}, "mark": {"type": "text", "align": "right", "baseline": "middle", "font": "Liberation Sans", "fontSize": 15.2, "color": "#111"},
           "encoding": {"x": {"datum": 2.887, "type": "quantitative", "scale": {"type": "log", "domain": [0.6, 3], "nice": false}, "axis": null},
            "y": {"field": "row", "type": "nominal", "scale": {"type": "band", "domain": ["101 -300 m2/g", "20 - 100 m2/g", "<20 m2/g", ">2 mm", "<2 mm", "Overall Effect"], "paddingInner": 0, "paddingOuter": 0.5}, "axis": null},
            "text": {"field": "row"}}},
          {"data": {"name": "f_gm"}, "mark": {"type": "text", "align": "left", "baseline": "middle", "font": "Liberation Sans", "fontSize": 17.8, "color": "#111", "lineBreak": "\n", "lineHeight": 21},
           "encoding": {"x": {"datum": 0.6536, "type": "quantitative", "scale": {"type": "log", "domain": [0.6, 3], "nice": false}, "axis": null},
            "y": {"field": "at", "type": "nominal", "bandPosition": 0.12, "scale": {"type": "band", "domain": ["101 -300 m2/g", "20 - 100 m2/g", "<20 m2/g", ">2 mm", "<2 mm", "Overall Effect"], "paddingInner": 0, "paddingOuter": 0.5}, "axis": null},
            "text": {"field": "g"}}},
          {"data": {"name": "f_ge"}, "mark": {"type": "text", "align": "left", "baseline": "middle", "font": "Liberation Sans", "fontSize": 17.8, "color": "#111"},
           "encoding": {"x": {"datum": 0.6536, "type": "quantitative", "scale": {"type": "log", "domain": [0.6, 3], "nice": false}, "axis": null},
            "y": {"field": "at", "type": "nominal", "bandPosition": 0.77, "scale": {"type": "band", "domain": ["101 -300 m2/g", "20 - 100 m2/g", "<20 m2/g", ">2 mm", "<2 mm", "Overall Effect"], "paddingInner": 0, "paddingOuter": 0.5}, "axis": null},
            "text": {"field": "g"}}}
         ]
        }
       ]
      }
     ]
    }
   ]
  },
  {
   "spacing": 25,
   "hconcat": [
    {
     "width": 849, "height": 35,
     "data": {"values": [{"t": "Legend for number of replicates"}]},
     "mark": {"type": "text", "align": "right", "baseline": "middle", "font": "Liberation Sans", "fontSize": 20.5, "fontWeight": "bold", "color": "#000", "dy": 4},
     "encoding": {"x": {"datum": 1, "type": "quantitative", "scale": {"domain": [0, 1]}, "axis": null}, "text": {"field": "t"}}
    },
    {
     "width": 116, "height": 35,
     "data": {"values": [{"n": ">50"}]},
     "mark": {"type": "point", "shape": "M-1,-0.04H1V0.04H-1Z M-0.155,-0.155H0.155V0.155H-0.155Z", "filled": true, "color": "#000", "opacity": 1, "strokeWidth": 0, "size": 13456},
     "title": {"text": ">50", "orient": "bottom", "anchor": "middle", "font": "Liberation Sans", "fontSize": 20.5, "fontWeight": "bold", "color": "#000", "offset": 3}
    },
    {
     "width": 83, "height": 35,
     "data": {"values": [{"n": "31 - 50"}]},
     "mark": {"type": "point", "shape": "M-1,-0.045H1V0.045H-1Z M-0.165,-0.165H0.165V0.165H-0.165Z", "filled": true, "color": "#000", "opacity": 1, "strokeWidth": 0, "size": 6889},
     "title": {"text": "31 - 50", "orient": "bottom", "anchor": "middle", "font": "Liberation Sans", "fontSize": 20.5, "fontWeight": "bold", "color": "#000", "offset": 3}
    },
    {
     "width": 60, "height": 35,
     "data": {"values": [{"n": "10 - 30"}]},
     "mark": {"type": "point", "shape": "M-1,-0.035H1V0.035H-1Z M-0.14,-0.14H0.14V0.14H-0.14Z", "filled": true, "color": "#000", "opacity": 1, "strokeWidth": 0, "size": 3600},
     "title": {"text": "10 - 30", "orient": "bottom", "anchor": "middle", "font": "Liberation Sans", "fontSize": 20.5, "fontWeight": "bold", "color": "#000", "offset": 3}
    },
    {
     "width": 36, "height": 35,
     "data": {"values": [{"n": "<10"}]},
     "mark": {"type": "point", "shape": "M-1,-0.03H1V0.03H-1Z M-0.14,-0.14H0.14V0.14H-0.14Z", "filled": true, "color": "#000", "opacity": 1, "strokeWidth": 0, "size": 1296},
     "title": {"text": "<10", "orient": "bottom", "anchor": "middle", "font": "Liberation Sans", "fontSize": 20.5, "fontWeight": "bold", "color": "#000", "offset": 3}
    }
   ]
  }
 ],
 "spacing": 12
}
